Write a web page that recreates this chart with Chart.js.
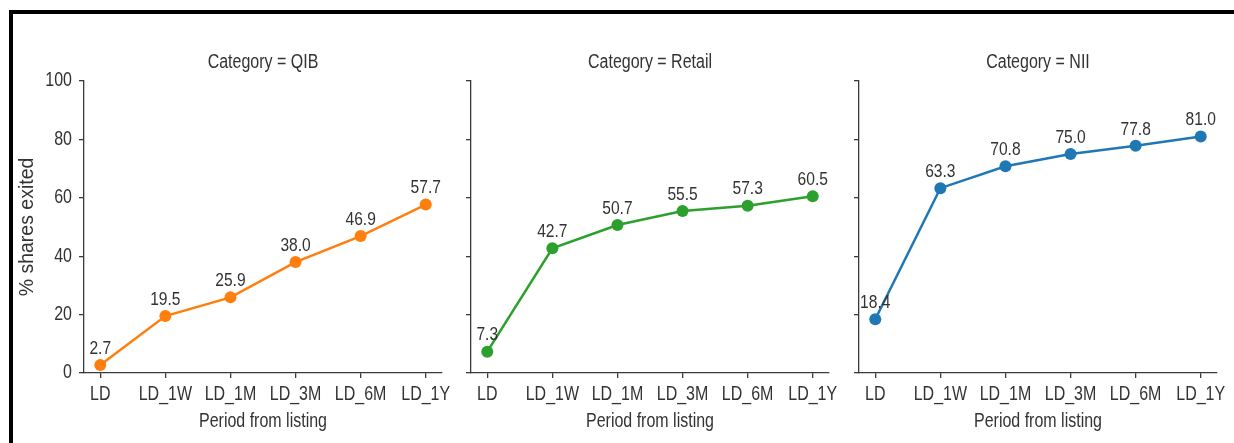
<!DOCTYPE html>
<html>
<head>
<meta charset="utf-8">
<script src="https://cdn.jsdelivr.net/npm/chart.js@4.4.0/dist/chart.umd.min.js"></script>
<style>
  html, body { margin: 0; padding: 0; background: #fff; }
  body { width: 1234px; height: 443px; position: relative; overflow: hidden; }
  .frame { position: absolute; left: 9px; top: 10px; right: -10px; bottom: -10px;
           border-top: 4px solid #000; border-left: 4px solid #000; }
  canvas { position: absolute; top: 0; }
</style>
</head>
<body>
<div class="frame"></div>
<canvas id="panelQIB" width="470" height="443" style="left:0px"></canvas>
<canvas id="panelRetail" width="420" height="443" style="left:440px"></canvas>
<canvas id="panelNII" width="404" height="443" style="left:830px"></canvas>
<script>
// periods after listing, shared by all three panels
const periods = ['LD', 'LD_1W', 'LD_1M', 'LD_3M', 'LD_6M', 'LD_1Y'];
const yTicks = [0, 20, 40, 60, 80, 100];

// % of shares exited per investor category
const qibValues = [2.7, 19.5, 25.9, 38.0, 46.9, 57.7];
const retailValues = [7.3, 42.7, 50.7, 55.5, 57.3, 60.5];
const niiValues = [18.4, 63.3, 70.8, 75.0, 77.8, 81.0];

const FONT = "'Liberation Sans', Arial, sans-serif";
const SQUEEZE = 0.82;   // condensed look for horizontal text
const INK = '#333333';
const AXIS = '#3a3a3a';

function narrowText(ctx, text, x, y, size, align) {
  ctx.save();
  ctx.translate(x, y);
  ctx.scale(SQUEEZE, 1);
  ctx.font = size + 'px ' + FONT;
  ctx.fillStyle = INK;
  ctx.textAlign = align || 'center';
  ctx.textBaseline = 'middle';
  ctx.fillText(text, 0, 0);
  ctx.restore();
}

// heading, tick labels, x title and value labels, all in condensed type
const panelText = {
  id: 'panelText',
  afterDraw(chart, args, opts) {
    const {ctx, chartArea, scales} = chart;
    const mid = (chartArea.left + chartArea.right) / 2;

    narrowText(ctx, 'Category = ' + opts.category, mid, chartArea.top - 18, 19.5);

    periods.forEach((p, i) => {
      narrowText(ctx, p, scales.x.getPixelForValue(i), chartArea.bottom + 22, 19.5);
    });
    narrowText(ctx, 'Period from listing', mid, chartArea.bottom + 49, 19.5);

    if (opts.yLabels) {
      yTicks.forEach(v => {
        narrowText(ctx, String(v), chartArea.left - 12, scales.y.getPixelForValue(v), 19.5, 'right');
      });
    }

    const meta = chart.getDatasetMeta(0);
    const data = chart.data.datasets[0].data;
    meta.data.forEach((pt, i) => {
      narrowText(ctx, data[i].y.toFixed(1), pt.x, pt.y - 16.5, 19);
    });
  }
};

function makePanel(id, category, values, color, pad, yWidth, firstPanel) {
  new Chart(document.getElementById(id), {
    type: 'line',
    data: {
      datasets: [{
        data: values.map((v, i) => ({ x: i, y: v })),
        borderColor: color,
        backgroundColor: color,
        borderWidth: 2.5,
        pointRadius: 6,
        pointBorderWidth: 0,
        pointBackgroundColor: color,
        tension: 0
      }]
    },
    options: {
      responsive: false,
      animation: false,
      devicePixelRatio: 1,
      layout: { padding: { left: pad.left, right: pad.right, top: 81, bottom: 10 } },
      plugins: {
        legend: { display: false },
        tooltip: { enabled: false },
        panelText: { category: category, yLabels: firstPanel }
      },
      scales: {
        x: {
          type: 'linear',
          min: -0.25,
          max: periods.length - 0.75,
          afterBuildTicks: s => { s.ticks = periods.map((p, i) => ({ value: i })); },
          afterFit: s => { s.height = 60; },
          ticks: { display: false },
          grid: { drawOnChartArea: false, drawTicks: true, tickLength: 5, color: AXIS, lineWidth: 1.3 },
          border: { display: true, color: AXIS, width: 1.3 }
        },
        y: {
          min: 0,
          max: 100,
          afterBuildTicks: s => { s.ticks = yTicks.map(v => ({ value: v })); },
          afterFit: s => { s.width = yWidth; },
          ticks: { display: false },
          grid: { drawOnChartArea: false, drawTicks: true, tickLength: 5, color: AXIS, lineWidth: 1.3 },
          border: { display: true, color: AXIS, width: 1.3 },
          title: {
            display: firstPanel,
            text: '% shares exited',
            font: { family: FONT, size: 19.5, lineHeight: 1 },
            color: INK,
            padding: { top: 18, bottom: 0 }
          }
        }
      }
    },
    plugins: [panelText]
  });
}

makePanel('panelQIB', 'QIB', qibValues, '#ff7f0e', { left: 0, right: 28 }, 84, true);
makePanel('panelRetail', 'Retail', retailValues, '#2ca02c', { left: 11, right: 31 }, 20, false);
makePanel('panelNII', 'NII', niiValues, '#1f77b4', { left: 9, right: 17 }, 20, false);
</script>
</body>
</html>
